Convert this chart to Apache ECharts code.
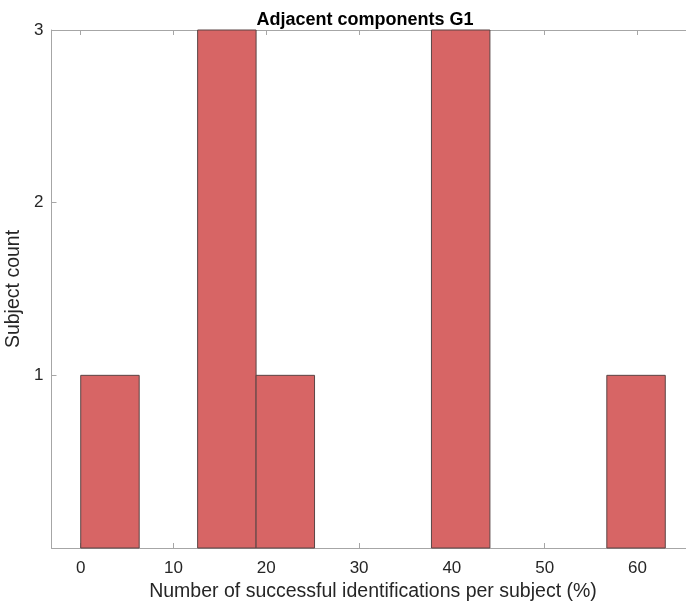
<!DOCTYPE html>
<html>
<head>
<meta charset="utf-8">
<script src="https://cdn.jsdelivr.net/npm/echarts@6/dist/echarts.min.js"></script>
<style>
html,body{margin:0;padding:0;background:#fff;}
#chart{width:686px;height:604px;}
</style>
</head>
<body>
<div id="chart"></div>
<script>
// Histogram data
const binStarts = [0, 6.3, 12.6, 18.9, 25.2, 31.5, 37.8, 44.1, 50.4, 56.7];
const binEnds   = [6.3, 12.6, 18.9, 25.2, 31.5, 37.8, 44.1, 50.4, 56.7, 63];
const counts    = [1, 0, 3, 1, 0, 0, 3, 0, 0, 1];
const xTicks = [0, 10, 20, 30, 40, 50, 60];
const yTicks = [1, 2, 3];
const titleText = 'Adjacent components G1';
const xLabel = 'Number of successful identifications per subject (%)';
const yLabel = 'Subject count';

const data = binStarts.map((s, i) => [s, binEnds[i], counts[i]]).filter(d => d[2] > 0);

const FONT = 'Liberation Sans, Arial, Helvetica, sans-serif';
const axisCol = '#a6a6a6';
const textCol = '#262626';

const chart = echarts.init(document.getElementById('chart'), null, {renderer: 'canvas'});
chart.setOption({
  animation: false,
  backgroundColor: '#ffffff',
  title: {
    text: titleText,
    left: 360, top: 6, textAlign: 'center',
    textStyle: {fontFamily: FONT, fontWeight: 'bold', fontSize: 18, color: '#000'}
  },
  grid: {left: 51.5, top: 30, width: 643, height: 518, outerBoundsMode: 'none', containLabel: false},
  xAxis: [{
    type: 'value', min: -3.15, max: 66.15, position: 'bottom',
    name: xLabel, nameLocation: 'middle', nameGap: 33,
    nameTextStyle: {fontFamily: FONT, fontSize: 19.5, color: textCol},
    axisLine: {show: true, onZero: false, lineStyle: {color: axisCol, width: 1}},
    axisTick: {show: true, inside: true, length: 5, customValues: xTicks, lineStyle: {color: axisCol}},
    axisLabel: {customValues: xTicks, fontFamily: FONT, fontSize: 17, color: textCol, margin: 12},
    splitLine: {show: false}
  }, {
    type: 'value', min: -3.15, max: 66.15, position: 'top',
    axisLine: {show: true, onZero: false, lineStyle: {color: axisCol, width: 1}},
    axisTick: {show: true, inside: true, length: 5, customValues: xTicks, lineStyle: {color: axisCol}},
    axisLabel: {show: false},
    splitLine: {show: false}
  }],
  yAxis: [{
    type: 'value', min: 0, max: 3, position: 'left',
    name: yLabel, nameLocation: 'middle', nameGap: 22,
    nameTextStyle: {fontFamily: FONT, fontSize: 19.5, color: textCol},
    axisLine: {show: true, onZero: false, lineStyle: {color: axisCol, width: 1}},
    axisTick: {show: true, inside: true, length: 5, customValues: yTicks, lineStyle: {color: axisCol}},
    axisLabel: {customValues: yTicks, fontFamily: FONT, fontSize: 17, color: textCol, margin: 8},
    splitLine: {show: false}
  }],
  series: [{
    type: 'custom',
    xAxisIndex: 0, yAxisIndex: 0,
    data: data,
    encode: {x: [0, 1], y: 2},
    renderItem: function (params, api) {
      const p0 = api.coord([api.value(0), 0]);
      const p1 = api.coord([api.value(1), api.value(2)]);
      return {
        type: 'rect',
        shape: {x: p0[0], y: p1[1], width: p1[0] - p0[0], height: p0[1] - p1[1]},
        style: {fill: '#d76565', stroke: '#5a4545', lineWidth: 1}
      };
    }
  }]
});
</script>
</body>
</html>
